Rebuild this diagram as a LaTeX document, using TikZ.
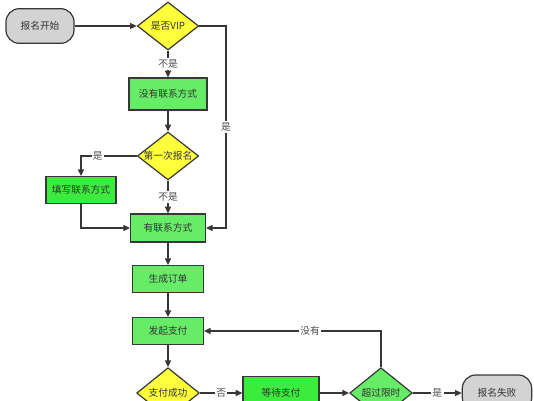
\documentclass[tikz,border=0pt]{standalone}
\usepackage{fontspec}
\setmainfont{Noto Sans CJK SC}
\usetikzlibrary{shapes.geometric,arrows.meta,positioning,calc}
\definecolor{lightgreen}{RGB}{102,236,102}
\definecolor{brightgreen}{RGB}{60,236,60}
\definecolor{decyellow}{RGB}{255,255,60}
\definecolor{endgray}{RGB}{211,211,211}
\definecolor{linegray}{RGB}{55,55,55}
\begin{document}
\begin{tikzpicture}[
    x=0.75pt, y=-0.75pt,
    font=\fontsize{7.3}{8}\selectfont, text=black!80,
    terminal/.style={draw=linegray, rounded corners=10pt, minimum width=51pt, minimum height=26pt, fill=endgray, line width=0.9pt, inner sep=0pt},
    field/.style={draw=linegray, minimum width=53pt, minimum height=20pt, fill=lightgreen, line width=0.9pt, inner sep=0pt},
    decision/.style={draw=linegray, diamond, aspect=1.3, minimum width=46pt, minimum height=36pt, inner sep=0pt, fill=decyellow, line width=0.9pt},
    lbl/.style={fill=white, inner sep=1pt, text=black!70},
    arrow/.style={-{Triangle[length=5pt,width=4.5pt]}, line width=0.9pt, draw=linegray}
]
\useasboundingbox (0,0) rectangle (534,400);

% main column
\node[terminal] (start) at (40,26) {报名开始};
\node[decision] (vip) at (168,26) {是否VIP};
\node[field, minimum width=58.5pt, minimum height=24pt] (nocontact) at (168,94) {没有联系方式};
\node[decision] (first) at (168,156) {第一次报名};
\node[field, fill=brightgreen, minimum width=52.5pt] (fill) at (81,190) {填写联系方式};
\node[field, minimum width=56pt, minimum height=21pt] (contact) at (168,228) {有联系方式};
\node[field] (order) at (168,279) {生成订单};
\node[field] (pay) at (168,331) {发起支付};

% payment row
\node[decision, minimum width=47pt, minimum height=38pt] (paid) at (168,393) {支付成功};
\node[field, fill=brightgreen, minimum width=57pt, minimum height=25pt] (wait) at (281,393) {等待支付};
\node[decision, fill=lightgreen, minimum width=47pt, minimum height=38pt] (timeout) at (381,393) {超过限时};
\node[terminal, minimum width=52pt, minimum height=27pt] (fail) at (497,393) {报名失败};

\coordinate (vipbend) at (226,26);

\foreach \i/\j in {start/vip, nocontact/first, contact/order, order/pay, pay/paid, wait/timeout}
  \draw[arrow] (\i) -- (\j);

\draw[arrow] (vip) -- node[lbl]{不是} (nocontact);
\draw[arrow] (first) -- node[lbl]{不是} (contact);
\draw[arrow] (first.west) -| node[lbl, pos=0.35]{是} (fill.north);
\draw[arrow] (fill.south) |- (contact.west);
\draw[arrow] (vip.east) -- (vipbend) |- node[lbl, pos=0.25]{是} (contact.east);
\draw[arrow] (paid) -- node[lbl]{否} (wait);
\draw[arrow] (timeout) -- node[lbl]{是} (fail);
\draw[arrow] (timeout.north) |- node[lbl, pos=0.7]{没有} (pay.east);

\end{tikzpicture}
\end{document}
